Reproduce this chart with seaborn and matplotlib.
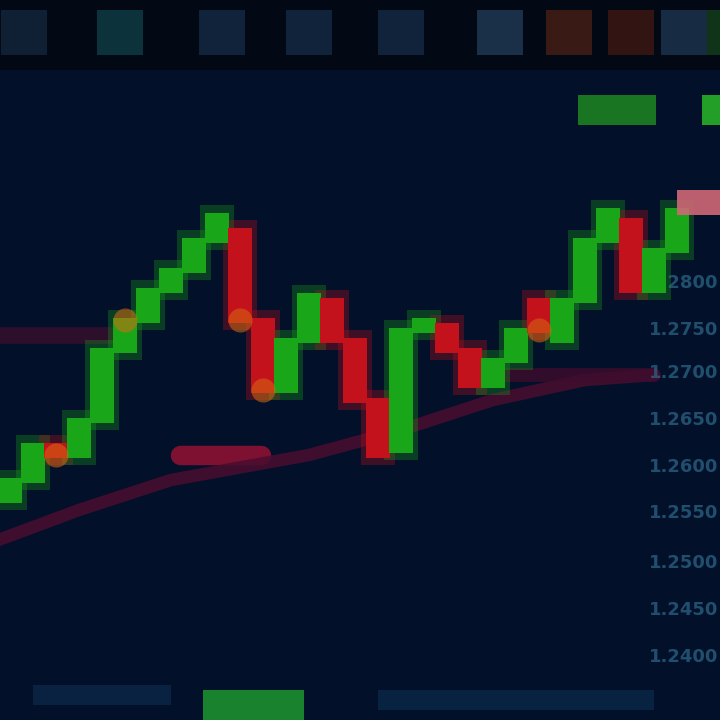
import numpy as np
import pandas as pd
import seaborn as sns
import matplotlib.pyplot as plt

# candles (open / close), one per bar slot
opens = [44, 48, 55, 53, 60, 74, 80, 86, 90, 96, 98, 80, 66, 76, 84,
         76, 64, 54, 78, 79, 74, 67, 72, 84, 76, 84, 96, 100, 86, 94]
closes = [48, 55, 53, 60, 74, 80, 86, 90, 96, 101, 80, 66, 76, 85, 76,
          64, 53, 78, 80, 74, 67, 72, 78, 78, 84, 96, 102, 86, 94, 102]

# moving average line
ma_x = [-0.5, 3, 7, 13, 17, 21, 25, 28]
ma_y = [36, 42, 48, 53, 58, 64, 68, 69]

# right-hand price scale
tick_prices = [87.4, 78, 69.4, 60, 50.6, 41.4, 31.4, 22, 12.6]
tick_labels = ["1.2800", "1.2750", "1.2700", "1.2650", "1.2600",
               "1.2550", "1.2500", "1.2450", "1.2400"]

bg = "#03102a"
green = "#19a619"
red = "#c4121c"

sns.set_theme(style="dark", rc={"axes.facecolor": bg, "figure.facecolor": bg,
                                "patch.edgecolor": "none", "patch.linewidth": 0})

fig = plt.figure(figsize=(7.2, 7.2), dpi=100)
ax = fig.add_axes([0, 0, 1, 1])
ax.set_xlim(-0.435, 30.87)
ax.set_ylim(0, 144)
ax.axis("off")

df = pd.DataFrame({"i": range(len(opens)), "open": opens, "close": closes})
df["up"] = df["close"] >= df["open"]

# header strip
ax.axhspan(130, 144, color="#020814", zorder=0)
hdr = [(-0.4, "#1c3550"), (3.8, "#16555e"), (8.2, "#1d3a5c"), (12.0, "#1d3a5c"),
       (16.0, "#1d3a5c"), (20.3, "#2f5274"), (23.3, "#6a2a14"), (26.0, "#5a2012"),
       (28.3, "#2a4a6a"), (30.3, "#1a5a1a")]
for x0, c in hdr:
    ax.bar(x0 + 1, 9, width=2.0, bottom=133, color=c, alpha=0.55, zorder=1, linewidth=0)

# support / resistance and averages
ax.plot([-0.5, 4.3], [77, 77], color="#3a0f2c", lw=12, alpha=0.8, solid_capstyle="round", zorder=2)
ax.plot([7.4, 10.9], [53, 53], color="#8c1032", lw=14, alpha=0.9, solid_capstyle="round", zorder=2)
sns.lineplot(x=ma_x, y=ma_y, ax=ax, color="#4a0d2e", lw=9, alpha=0.85, zorder=2)
ax.plot([21.3, 28], [69, 69], color="#3e0c2c", lw=10, alpha=0.8, zorder=2)

# right scale labels
for p, t in zip(tick_prices, tick_labels):
    ax.text(30.8, p, t, color="#2d6a8c", fontsize=13, fontweight="bold",
            ha="right", va="center", alpha=0.7, zorder=2)

# candles with a soft glow
for _, r in df.iterrows():
    c = green if r["up"] else red
    lo, hi = min(r["open"], r["close"]), max(r["open"], r["close"])
    ax.bar(r["i"], hi - lo + 4, bottom=lo - 2, width=1.5, color=c, alpha=0.3, zorder=3, linewidth=0)
    ax.bar(r["i"], hi - lo + 1, bottom=lo - 0.5, width=1.05, color=c, zorder=4, linewidth=0)

# orange glints where colours meet
for i in [2, 5, 10, 11, 23]:
    ax.scatter(i, closes[i], s=300, color="#d66a10", alpha=0.55, zorder=5, linewidths=0)

# price tag and labels at the right
ax.bar(30.3, 5, bottom=101, width=2.6, color="#d06876", alpha=0.9, zorder=6, linewidth=0)
ax.bar(26.4, 6, bottom=119, width=3.4, color="#1f8f1f", alpha=0.8, zorder=6, linewidth=0)
ax.bar(30.7, 6, bottom=119, width=1.2, color="#27b027", alpha=0.9, zorder=6, linewidth=0)

# bottom bar
ax.bar(10.6, 6, bottom=0, width=4.4, color="#1b8f30", alpha=0.9, zorder=6, linewidth=0)
ax.bar(4, 4, bottom=3, width=6, color="#12355a", alpha=0.5, zorder=1, linewidth=0)
ax.bar(22, 4, bottom=2, width=12, color="#0e3558", alpha=0.5, zorder=1, linewidth=0)

fig.savefig("out.png", dpi=100, facecolor=bg)
